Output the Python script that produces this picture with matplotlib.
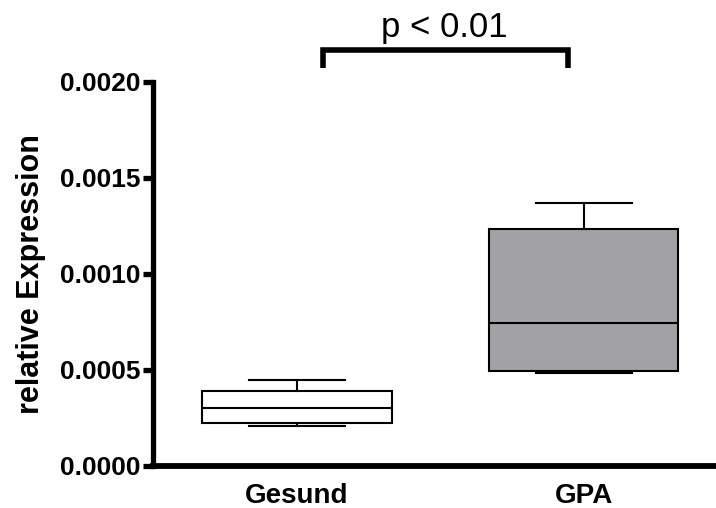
import matplotlib.pyplot as plt

# box statistics
groups = ["Gesund", "GPA"]
whisker_low = [0.000208, 0.000485]
q1 = [0.000225, 0.000496]
median = [0.000300, 0.000742]
q3 = [0.000392, 0.001235]
whisker_high = [0.000446, 0.001368]
box_colors = ["white", "#a2a1a6"]

y_ticks = [0.0, 0.0005, 0.0010, 0.0015, 0.0020]
y_ticklabels = ["0.0000", "0.0005", "0.0010", "0.0015", "0.0020"]
sig_text = "p < 0.01"


def main():
    plt.rcParams["font.family"] = ["Liberation Sans", "DejaVu Sans"]

    fig = plt.figure(figsize=(7.16, 5.08), dpi=100)
    ax = fig.add_axes([0.2137, 0.0827, 0.784, 0.7563])

    stats = []
    for i, name in enumerate(groups):
        stats.append({
            "label": name,
            "whislo": whisker_low[i],
            "q1": q1[i],
            "med": median[i],
            "q3": q3[i],
            "whishi": whisker_high[i],
        })

    positions = [1, 2]
    bp = ax.bxp(stats, positions=positions, widths=0.66, showfliers=False,
                patch_artist=True, capwidths=0.334,
                boxprops=dict(linewidth=1.5, edgecolor="black"),
                medianprops=dict(linewidth=1.5, color="black"),
                whiskerprops=dict(linewidth=1.5, color="black"),
                capprops=dict(linewidth=1.5, color="black"))
    for patch, c in zip(bp["boxes"], box_colors):
        patch.set_facecolor(c)

    ax.set_xlim(0.498, 2.455)
    ax.set_ylim(0, 0.0020)
    ax.set_yticks(y_ticks)
    ax.set_yticklabels(y_ticklabels, fontsize=19, fontweight="bold")
    ax.set_xticks(positions)
    ax.set_xticklabels(groups, fontsize=20, fontweight="bold")

    ax.spines["top"].set_visible(False)
    ax.spines["right"].set_visible(False)
    ax.spines["left"].set_linewidth(3.8)
    ax.spines["bottom"].set_linewidth(4.2)
    ax.tick_params(axis="y", length=7, width=3.8, pad=2)
    ax.tick_params(axis="x", length=0, pad=12)

    ax.set_ylabel("relative Expression", fontsize=22, fontweight="bold",
                  labelpad=10)

    # significance bracket
    ax.plot([1.09, 1.09, 1.944, 1.944], [0.00207, 0.002164, 0.002164, 0.00207],
            color="black", linewidth=4, clip_on=False,
            solid_joinstyle="miter", solid_capstyle="butt")
    ax.text(1.512, 0.00228, sig_text, fontsize=25, ha="center", va="center")

    fig.savefig("out.png", dpi=100)


if __name__ == "__main__":
    main()
